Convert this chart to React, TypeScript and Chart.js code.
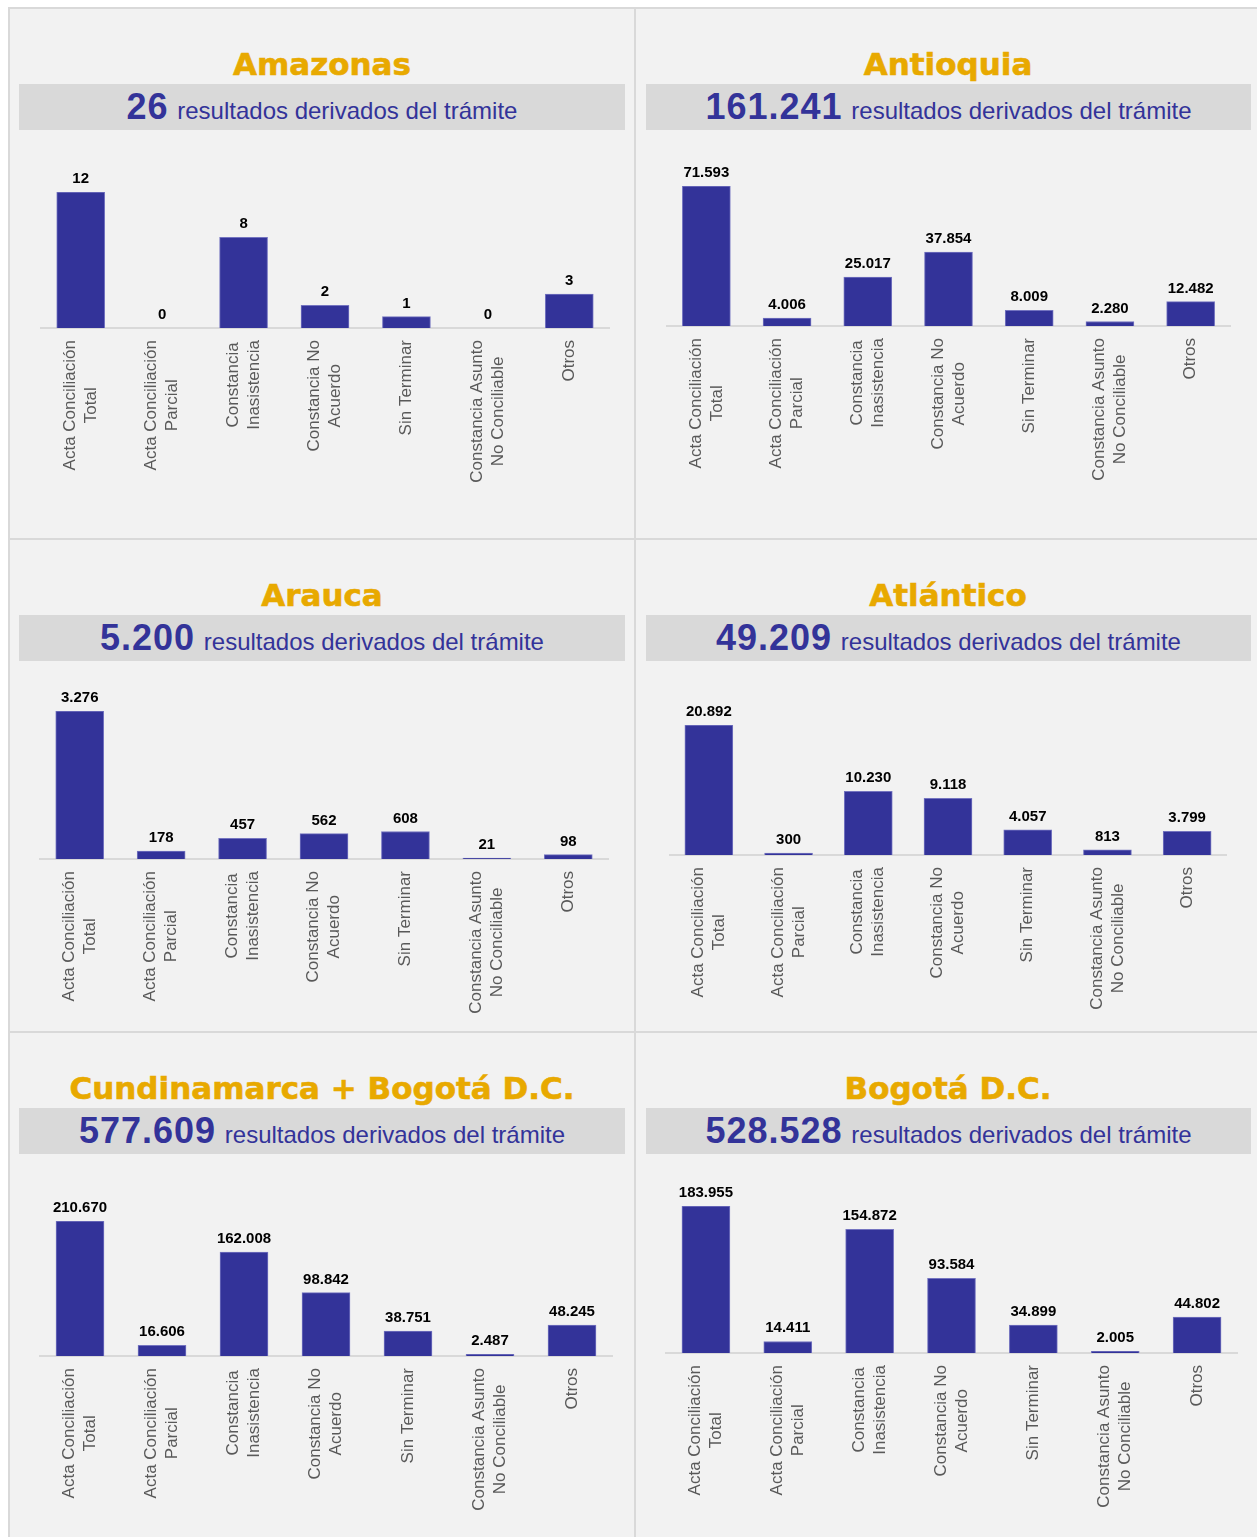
import React, { useEffect, useRef } from "react";
import { Chart, registerables } from "chart.js";

Chart.register(...registerables);

// ---------- DATA ----------
const categories: string[][] = [
  ["Acta Conciliación", "Total"],
  ["Acta Conciliación", "Parcial"],
  ["Constancia", "Inasistencia"],
  ["Constancia No", "Acuerdo"],
  ["Sin Terminar"],
  ["Constancia Asunto", "No Conciliable"],
  ["Otros"],
];

const regionNames = [
  "Amazonas",
  "Antioquia",
  "Arauca",
  "Atlántico",
  "Cundinamarca + Bogotá D.C.",
  "Bogotá D.C.",
];

const regionTotals = ["26", "161.241", "5.200", "49.209", "577.609", "528.528"];

const subtitleText = "resultados derivados del trámite";

const amazonasValues = [12, 0, 8, 2, 1, 0, 3];
const antioquiaValues = [71593, 4006, 25017, 37854, 8009, 2280, 12482];
const araucaValues = [3276, 178, 457, 562, 608, 21, 98];
const atlanticoValues = [20892, 300, 10230, 9118, 4057, 813, 3799];
const cundinamarcaValues = [210670, 16606, 162008, 98842, 38751, 2487, 48245];
const bogotaValues = [183955, 14411, 154872, 93584, 34899, 2005, 44802];

const panelValues = [
  amazonasValues,
  antioquiaValues,
  araucaValues,
  atlanticoValues,
  cundinamarcaValues,
  bogotaValues,
];

// ---------- LAYOUT ----------
const ROW_OFFSETS = [0, 531, 1024];
const COL_CENTERS = [322, 948];
const BAND_X = [
  [19, 625],
  [646, 1251],
];
// chart geometry: x0, x1, baseline, max-bar height
const CHART_GEO = [
  { x0: 40, x1: 610, baseline: 328, h: 136 },
  { x0: 666, x1: 1231, baseline: 326, h: 140 },
  { x0: 39, x1: 609, baseline: 859, h: 148 },
  { x0: 669, x1: 1227, baseline: 855, h: 130 },
  { x0: 39, x1: 613, baseline: 1356, h: 135 },
  { x0: 665, x1: 1238, baseline: 1353, h: 147 },
];

const PAD_TOP = 40;
const AXIS_H = 180;
const BAR_COLOR = "#333399";
const TEXT_BLUE = "#333399";
const TITLE_COLOR = "#E8A900";
const BORDER = "#d9d9d9";
const PANEL_BG = "#f2f2f2";

const fmt = (v: number) => String(v).replace(/\B(?=(\d{3})+(?!\d))/g, ".");

const labelPlugin = {
  id: "customLabels",
  afterDatasetsDraw(chart: any) {
    const ctx: CanvasRenderingContext2D = chart.ctx;
    const meta = chart.getDatasetMeta(0);
    const xScale = chart.scales.x;
    const data = chart.data.datasets[0].data as number[];
    ctx.save();
    // value labels
    ctx.font = 'bold 15px "Liberation Sans", Arial, sans-serif';
    ctx.fillStyle = "#000000";
    ctx.textAlign = "center";
    ctx.textBaseline = "alphabetic";
    meta.data.forEach((bar: any, i: number) => {
      ctx.fillText(fmt(data[i]), bar.x, bar.y - 9);
    });
    // category labels (rotated, centered block)
    ctx.font = '17px "Liberation Sans", Arial, sans-serif';
    ctx.fillStyle = "#595959";
    const labels = chart.data.labels as (string | string[])[];
    const lh = 21;
    labels.forEach((lab, i) => {
      const lines = Array.isArray(lab) ? lab : [lab];
      const cx = xScale.getPixelForValue(i);
      const top = xScale.top + 12;
      const w = Math.max(...lines.map((l) => ctx.measureText(l).width));
      lines.forEach((line, j) => {
        const off = (j - (lines.length - 1) / 2) * lh;
        ctx.save();
        ctx.translate(cx + off, top + w / 2);
        ctx.rotate(-Math.PI / 2);
        ctx.textAlign = "center";
        ctx.textBaseline = "middle";
        ctx.fillText(line, 0, 0);
        ctx.restore();
      });
    });
    ctx.restore();
  },
};

function BarPanel({ index }: { index: number }) {
  const ref = useRef<HTMLCanvasElement | null>(null);
  const geo = CHART_GEO[index];
  const values = panelValues[index];
  const width = geo.x1 - geo.x0;
  const height = PAD_TOP + geo.h + AXIS_H;

  useEffect(() => {
    if (!ref.current) return;
    const chart = new Chart(ref.current, {
      type: "bar",
      data: {
        labels: categories,
        datasets: [
          {
            data: values,
            backgroundColor: BAR_COLOR,
            borderColor: "#7474c0",
            borderWidth: 1,
            barThickness: 48,
          },
        ],
      },
      options: {
        animation: false,
        responsive: false,
        devicePixelRatio: 1,
        layout: { padding: { top: PAD_TOP, left: 0, right: 0, bottom: 0 } },
        plugins: {
          legend: { display: false },
          tooltip: { enabled: false },
          title: { display: false },
        },
        scales: {
          x: {
            grid: { display: false },
            border: { display: true, color: BORDER, width: 2 },
            ticks: { display: false },
            afterFit: (scale: any) => {
              scale.height = AXIS_H;
            },
          },
          y: {
            display: false,
            min: 0,
            max: Math.max(...values),
          },
        },
      },
      plugins: [labelPlugin],
    });
    return () => chart.destroy();
  }, [index]);

  return (
    <canvas
      ref={ref}
      width={width}
      height={height}
      style={{
        position: "absolute",
        left: geo.x0,
        top: geo.baseline - geo.h - PAD_TOP,
        width,
        height,
      }}
    />
  );
}

function Header({ index }: { index: number }) {
  const row = Math.floor(index / 2);
  const col = index % 2;
  const off = ROW_OFFSETS[row];
  const cx = COL_CENTERS[col];
  const [bx0, bx1] = BAND_X[col];
  return (
    <>
      <div
        style={{
          position: "absolute",
          left: cx - 310,
          width: 620,
          top: off + 46,
          textAlign: "center",
          fontFamily: '"DejaVu Sans", Verdana, sans-serif',
          fontWeight: 700,
          fontSize: 31,
          lineHeight: "36px",
          color: TITLE_COLOR,
          whiteSpace: "nowrap",
          WebkitTextStroke: "0.6px " + TITLE_COLOR,
        }}
      >
        {regionNames[index]}
      </div>
      <div
        style={{
          position: "absolute",
          left: bx0,
          width: bx1 - bx0,
          top: off + 84,
          height: 46,
          background: "#d9d9d9",
        }}
      >
        <div
          style={{
            position: "absolute",
            left: 0,
            right: 0,
            top: 4,
            lineHeight: "46px",
            textAlign: "center",
            fontFamily: '"Liberation Sans", Arial, sans-serif',
            fontSize: 24,
            color: TEXT_BLUE,
            whiteSpace: "nowrap",
          }}
        >
          <span
            style={{
              fontWeight: 700,
              fontSize: 36,
              lineHeight: "24px",
              letterSpacing: "1px",
              marginRight: 2,
            }}
          >
            {regionTotals[index]}
          </span>
          <span>{" " + subtitleText}</span>
        </div>
      </div>
    </>
  );
}

export default function App() {
  const line = (style: React.CSSProperties) => (
    <div style={{ position: "absolute", background: BORDER, ...style }} />
  );
  return (
    <div
      style={{
        position: "absolute",
        left: 0,
        top: 0,
        width: 1257,
        height: 1537,
        overflow: "hidden",
        background: "#ffffff",
      }}
    >
      <div
        style={{
          position: "absolute",
          left: 8,
          top: 7,
          right: 0,
          bottom: 0,
          background: PANEL_BG,
        }}
      />
      {line({ left: 8, top: 7, width: 1249, height: 2 })}
      {line({ left: 8, top: 7, width: 2, height: 1530 })}
      {line({ left: 634, top: 7, width: 2, height: 1530 })}
      {line({ left: 8, top: 538, width: 1249, height: 2 })}
      {line({ left: 8, top: 1031, width: 1249, height: 2 })}
      {[0, 1, 2, 3, 4, 5].map((i) => (
        <React.Fragment key={i}>
          <Header index={i} />
          <BarPanel index={i} />
        </React.Fragment>
      ))}
    </div>
  );
}
